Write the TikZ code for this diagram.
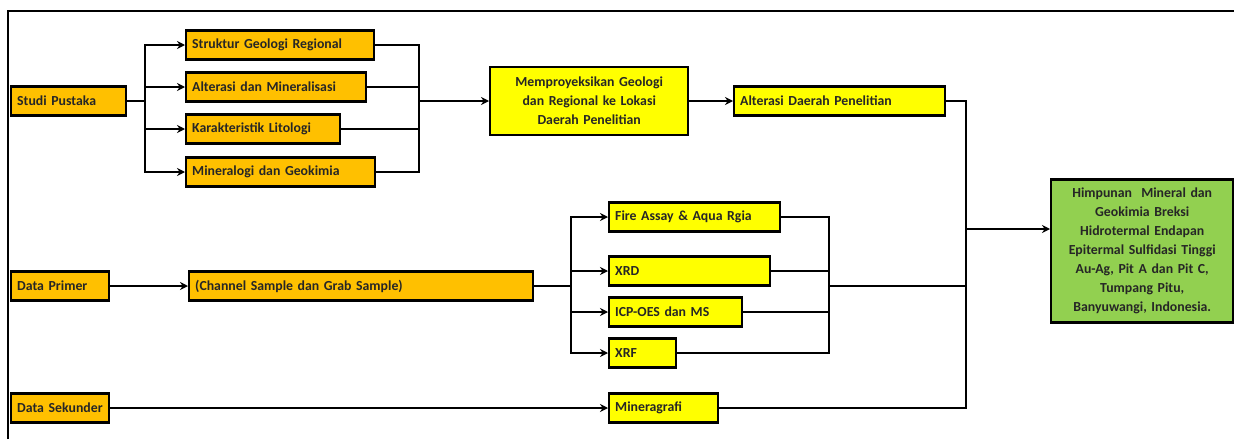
\documentclass[tikz,border=0pt]{standalone}
\usepackage{fontspec}
\setmainfont{Carlito}
\usepackage{tikz}
\usetikzlibrary{positioning,arrows.meta}
\usepackage{xcolor}
\definecolor{oranye}{HTML}{FFC000}
\definecolor{kuning}{HTML}{FFFF00}
\definecolor{hijau}{HTML}{92D050}
\hyphenpenalty=10000

\begin{document}
\begin{tikzpicture}[x=1pt,y=-1pt,->,>={Stealth[length=8pt,width=8pt]},line width=2pt,
        box/.style={rectangle,draw,line width=2.4pt,anchor=west,minimum height=29pt,
          inner xsep=6pt,inner ysep=0pt,align=left,text=black!85,
          font=\bfseries\fontsize{13.8}{19}\selectfont},
        obox/.style={box,fill=oranye},
        ybox/.style={box,fill=kuning}]

    \useasboundingbox (0,0) rectangle (1234,439);
    \draw[-] (8,439) -- (8,11) -- (1234,11);

    % studi pustaka
    \node[obox,text width=103pt] (sp) at (10,101) {Studi Pustaka};
    \node[obox,text width=176pt] (sg) at (185,45) {Struktur Geologi Regional};
    \node[obox,text width=168pt] (am) at (185,87) {Alterasi dan Mineralisasi};
    \node[obox,text width=142pt] (kl) at (185,129) {Karakteristik Litologi};
    \node[obox,text width=177pt] (mg) at (185,172) {Mineralogi dan Geokimia};
    \node[ybox,text width=186pt,minimum height=68pt,align=center] (mp) at (489,101)
        {Memproyeksikan Geologi\\dan Regional ke Lokasi\\Daerah Penelitian};
    \node[ybox,text width=199pt] (ad) at (733,101) {Alterasi Daerah Penelitian};
    \node[box,fill=hijau,text width=170pt,minimum height=143pt,align=center] (hm) at (1050,251)
        {Himpunan\ \ Mineral dan\\Geokimia Breksi\\Hidrotermal Endapan\\Epitermal Sulfidasi Tinggi\\
         Au-Ag, Pit A dan Pit C,\\Tumpang Pitu,\\Banyuwangi, Indonesia.};

    % data primer
    \node[obox,text width=86pt] (dp) at (10,286) {Data~Primer};
    \node[obox,text width=332pt] (cs) at (188,286) {(Channel Sample dan Grab Sample)};
    \node[ybox,text width=159pt] (fa) at (608,217) {Fire Assay \& Aqua Rgia};
    \node[ybox,text width=149pt] (xrd) at (608,271) {XRD};
    \node[ybox,text width=121pt] (icp) at (608,312) {ICP-OES dan MS};
    \node[ybox,text width=55pt] (xrf) at (608,353) {XRF};

    % data sekunder
    \node[obox,text width=86pt] (ds) at (10,408) {Data~Sekunder};
    \node[ybox,text width=97pt] (mn) at (608,408) {Mineragrafi};

    \coordinate (b1) at (145,101);
    \coordinate (m1) at (419,101);
    \coordinate (b2) at (571,286);
    \coordinate (m2) at (829,286);
    \coordinate (j) at (966,229);

    \draw[-] (sp) -- (b1);
    \draw (b1) |- (sg);
    \draw (b1) |- (am);
    \draw (b1) |- (kl);
    \draw (b1) |- (mg);
    \draw[-] (sg) -| (m1);
    \draw[-] (am) -| (m1);
    \draw[-] (kl) -| (m1);
    \draw[-] (mg) -| (m1);
    \draw (m1) -- (mp);
    \draw (mp) -- (ad);

    \draw (dp) -- (cs);
    \draw[-] (cs) -- (b2);
    \draw (b2) |- (fa);
    \draw (b2) |- (xrd);
    \draw (b2) |- (icp);
    \draw (b2) |- (xrf);
    \draw[-] (fa) -| (m2);
    \draw[-] (xrd) -| (m2);
    \draw[-] (icp) -| (m2);
    \draw[-] (xrf) -| (m2);
    \draw[-] (m2) -- (m2 -| j);

    \draw (ds) -- (mn);
    \draw[-] (ad) -| (j);
    \draw[-] (mn) -| (j);
    \draw (j) -- (j -| hm.west);

\end{tikzpicture}
\end{document}
